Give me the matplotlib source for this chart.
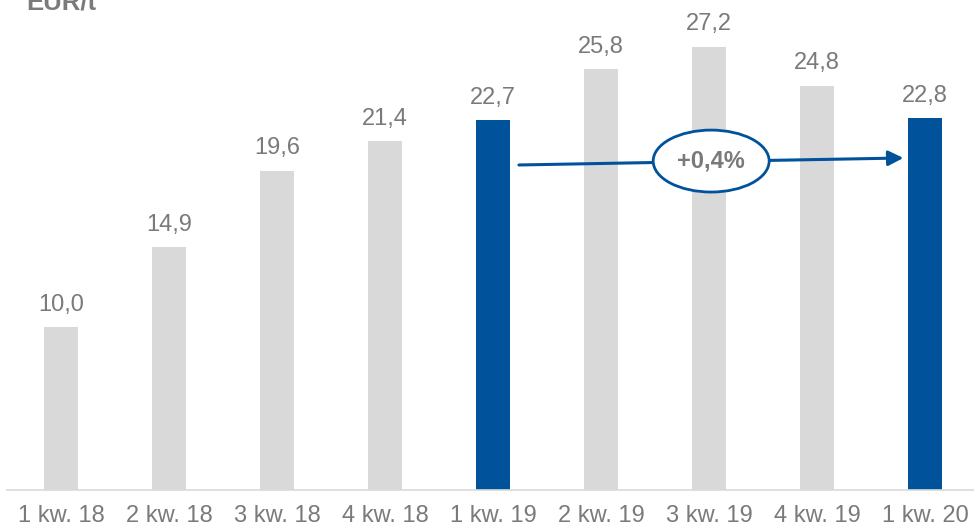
import matplotlib.pyplot as plt
from matplotlib.patches import Ellipse

kwartaly = ['1 kw. 18', '2 kw. 18', '3 kw. 18', '4 kw. 18', '1 kw. 19',
            '2 kw. 19', '3 kw. 19', '4 kw. 19', '1 kw. 20']
wartosci = [10.0, 14.9, 19.6, 21.4, 22.7, 25.8, 27.2, 24.8, 22.8]
wyroznione = [4, 8]  # slupki na niebiesko
zmiana = '+0,4%'

SZARY = '#d9d9d9'
NIEBIESKI = '#00529b'
TEKST = '#7a7a7a'

plt.rcParams['font.family'] = ['Liberation Sans', 'DejaVu Sans']

fig = plt.figure(figsize=(9.74, 5.27), dpi=100)
ax = fig.add_axes([0, 37 / 527, 1, 490 / 527])

x = list(range(len(wartosci)))
kolory = [NIEBIESKI if i in wyroznione else SZARY for i in x]
ax.bar(x, wartosci, width=0.315, color=kolory, zorder=2)

for i, v in zip(x, wartosci):
    ax.text(i, v + 1.0, ('%.1f' % v).replace('.', ','), ha='center', va='baseline',
            fontsize=17, color=TEKST)

ax.set_xlim(-61 / 108, (974 - 61) / 108)
ax.set_ylim(0, 490 / 16.3)

for s in ['top', 'right', 'left']:
    ax.spines[s].set_visible(False)
ax.spines['bottom'].set_color(SZARY)
ax.spines['bottom'].set_linewidth(1.2)
ax.spines['bottom'].set_bounds(-0.5, 9)
ax.set_yticks([])
ax.set_xticks(x)
ax.set_xticklabels(kwartaly, fontsize=17, color=TEKST)
ax.tick_params(axis='x', length=0, pad=11)

# strzalka od 1 kw. 19 do 1 kw. 20
a, b = wyroznione
ax.annotate('', xy=(b - 0.2, 20.37), xytext=(a + 0.24, 19.94),
            arrowprops=dict(arrowstyle='-|>,head_length=0.9,head_width=0.45',
                            color=NIEBIESKI, lw=2.2, shrinkA=0, shrinkB=0),
            zorder=4)
el = Ellipse((6.02, 20.18), width=1.074, height=3.8, facecolor='white',
             edgecolor=NIEBIESKI, lw=2, zorder=5)
ax.add_patch(el)
ax.text(6.02, 20.18, zmiana, ha='center', va='center', fontsize=17,
        fontweight='bold', color=TEKST, zorder=6)

fig.text(26 / 974, 1 - 9 / 527, 'EUR/t', ha='left', va='baseline', fontsize=18.5,
         fontweight='bold', color=TEKST)

fig.savefig('out.png', dpi=100)
